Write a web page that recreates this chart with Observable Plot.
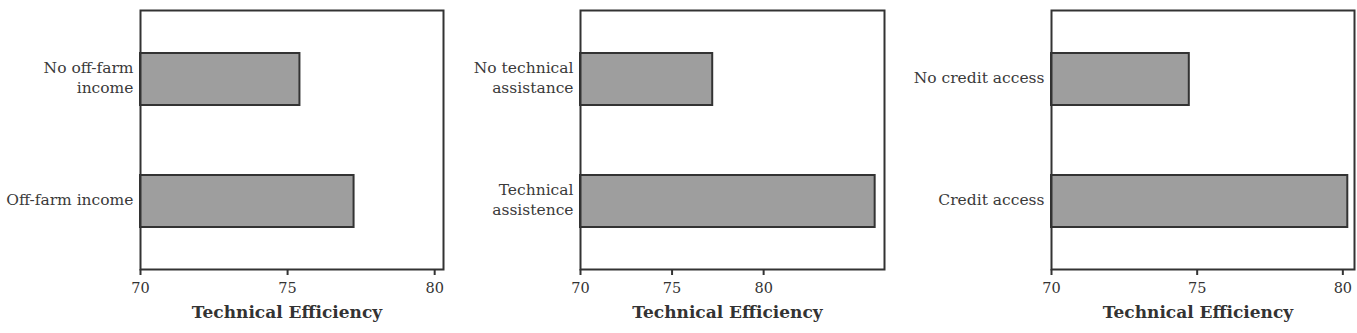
<!DOCTYPE html>
<html>
<head>
<meta charset="utf-8">
<script src="https://cdn.jsdelivr.net/npm/d3@7"></script>
<script src="https://cdn.jsdelivr.net/npm/@observablehq/plot@0.6"></script>
<style>
  html, body { margin: 0; padding: 0; background: #fff; }
  #wrap { position: relative; width: 1357px; height: 333px; overflow: hidden; }
  #wrap > div { position: absolute; top: 0; }
</style>
</head>
<body>
<div id="wrap"></div>
<script>
// ---- data ----
const baseline = 70;
const xTicks = [70, 75, 80];
const xTitle = "Technical Efficiency";

const offFarmLabels = ["No off-farm\nincome", "Off-farm income"];
const offFarmValues = [75.42, 77.26];

const techLabels = ["No technical\nassistance", "Technical\nassistence"];
const techValues = [77.22, 86.09];

const creditLabels = ["No credit access", "Credit access"];
const creditValues = [74.73, 80.17];

const xMaxes = [80.3, 86.6, 80.4];

// ---- drawing ----
const wrap = document.getElementById("wrap");

function panel(labels, values, xmax, left, width, ml, mr) {
  const data = labels.map((l, i) => ({label: l, value: values[i]}));
  const chart = Plot.plot({
    width,
    height: 333,
    marginTop: 10,
    marginBottom: 64,
    marginLeft: ml,
    marginRight: mr,
    style: {fontFamily: "DejaVu Serif", fontSize: "14px", color: "#333", background: "transparent", overflow: "visible"},
    x: {domain: [baseline, xmax], ticks: xTicks},
    y: {domain: labels, paddingInner: 0.575, paddingOuter: 0.345},
    marks: [
      Plot.barX(data, {x1: () => baseline, x2: "value", y: "label", fill: "#9e9e9e", stroke: "#333", strokeWidth: 2}),
      Plot.frame({stroke: "#333", strokeWidth: 2}),
      Plot.axisX({ticks: xTicks, tickSize: 6, tickPadding: 7, stroke: "#333", strokeWidth: 2, fontSize: 14.5, label: null}),
      Plot.axisY({tickSize: 0, tickPadding: 7, fontSize: 15.5, lineHeight: 1.3, dy: -3, fill: "#3a3a3a", label: null}),
      Plot.text([xTitle], {frameAnchor: "bottom", dy: 48, dx: -5, fontWeight: "bold", fontSize: 17, fill: "#333"})
    ]
  });
  const holder = document.createElement("div");
  holder.style.left = left + "px";
  holder.appendChild(chart);
  wrap.appendChild(holder);
}

panel(offFarmLabels, offFarmValues, xMaxes[0], 0, 450, 140, 7);
panel(techLabels, techValues, xMaxes[1], 440, 450, 140, 6);
panel(creditLabels, creditValues, xMaxes[2], 907, 450, 144, 3);
</script>
</body>
</html>
